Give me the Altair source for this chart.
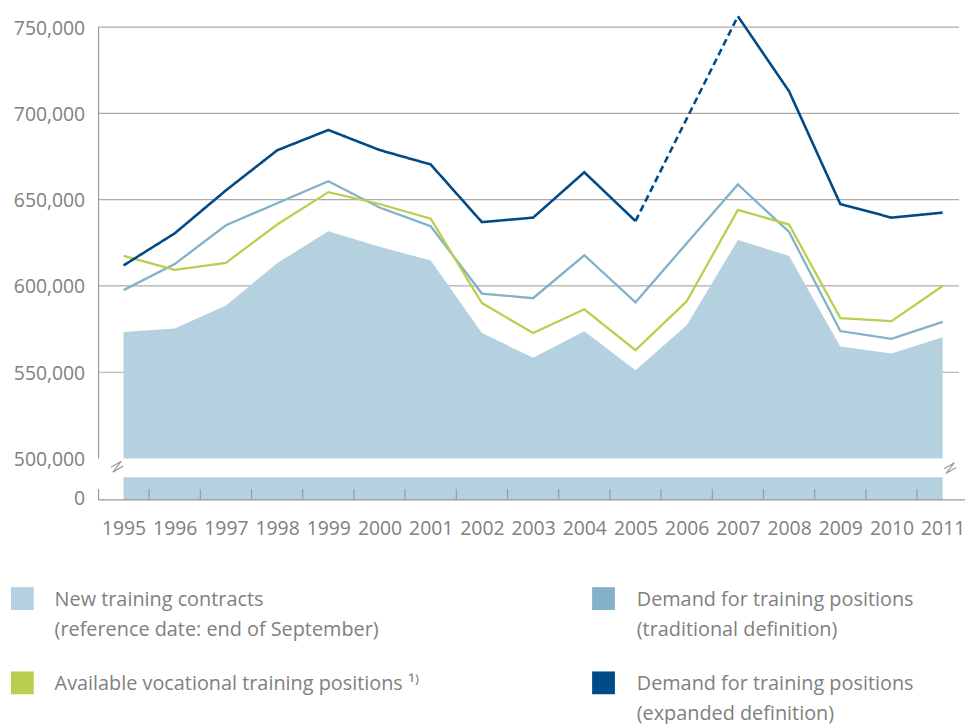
import altair as alt
import pandas as pd

# ---------------- data ----------------
years = list(range(1995, 2012))
new_contracts = [573300, 575300, 588700, 613200, 631700, 622700, 614800, 572700, 558400,
                 573700, 551100, 577200, 626700, 617400, 564900, 560800, 570300]
available_positions = [617400, 609300, 613400, 635600, 654400, 647500, 639000, 590100, 572700,
                       586500, 562800, 591100, 644100, 635600, 581400, 579600, 600000]
demand_traditional = [597600, 612700, 635200, 647900, 660700, 645500, 634600, 595600, 592900,
                      617800, 590500, 624700, 658800, 631300, 573900, 569300, 579200]
# expanded definition: no value for 2006, the gap 2005-2007 is drawn dashed
demand_expanded = [611900, 630500, 655400, 678600, 690400, 678800, 670400, 637000, 639600,
                   665900, 637600, None, 756300, 712800, 647500, 639600, 642500]

y_tick_values = [500000, 550000, 600000, 650000, 700000, 750000]
grid_values = [550000, 600000, 650000, 700000, 750000]

legend_labels = [
    ["New training contracts", "(reference date: end of September)"],
    ["Demand for training positions", "(traditional definition)"],
    ["Available vocational training positions \u00b9\u207e"],
    ["Demand for training positions", "(expanded definition)"],
]

# ---------------- style / layout ----------------
FONT = "Open Sans"
AX_FS = 19.5
LEG_FS = 20
TEXT = "#808080"
GRID = "#ababab"
AXIS = "#9a9a9a"
C_AREA = "#b5d0df"
C_TRAD = "#82b1c9"
C_AVAIL = "#b9cf50"
C_EXP = "#004a87"
legend_colors = [C_AREA, C_TRAD, C_AVAIL, C_EXP]

W, H = 867.7, 476.7
PX_PER_YEAR = 51.625
X_MIN = 1995 - 25.2 / PX_PER_YEAR
X_MAX = 1995 + (W - 25.2) / PX_PER_YEAR
X_END = 1995 + (W + 6 - 25.2) / PX_PER_YEAR      # bottom axis line runs to the page edge
UPP = 50000 / 87.0                               # value units per pixel
Y_MAX = 750000
Y_MIN = Y_MAX - H * UPP                          # bottom of the broken axis ("0" strip)
ZERO_TICK = Y_MAX - 474.0 * UPP                  # where the "0" label sits
STRIP_TOP = Y_MAX - 454.0 * UPP
TICK_TOP = Y_MAX - 465.7 * UPP
BREAK_Y_LEFT = Y_MAX - 443.2 * UPP
BREAK_Y_RIGHT = Y_MAX - 444.7 * UPP

xs = alt.Scale(domain=[X_MIN, X_MAX], nice=False, zero=False)
ys = alt.Scale(domain=[Y_MIN, Y_MAX], nice=False, zero=False)

xaxis = alt.Axis(values=years, format="d", title=None, tickSize=0, domain=False, grid=False,
                 labelFont=FONT, labelFontSize=AX_FS, labelColor=TEXT, labelPadding=20,
                 labelFlush=False, labelOverlap=False)
yaxis = alt.Axis(values=y_tick_values + [ZERO_TICK], title=None, tickSize=0, domain=False,
                 grid=False, labelFont=FONT, labelFontSize=AX_FS, labelColor=TEXT,
                 labelPadding=14, labelOffset=1, labelOverlap=False, labelFlush=False,
                 labelExpr="datum.value < 490000 ? '0' : format(datum.value, ',')")


def X(f):
    return alt.X(f, type="quantitative", scale=xs, axis=xaxis)


def Y(f):
    return alt.Y(f, type="quantitative", scale=ys, axis=yaxis)


df = pd.DataFrame({
    "year": years,
    "new": new_contracts,
    "avail": available_positions,
    "trad": demand_traditional,
})

# gridlines
grid_df = pd.DataFrame({"v": grid_values, "x0": [X_MIN] * len(grid_values),
                        "x1": [X_MAX] * len(grid_values)})
grid = alt.Chart(grid_df).mark_rule(color=GRID, strokeWidth=1.2).encode(
    x=X("x0"), x2="x1", y=Y("v"))

# area of new contracts (upper part, above the break)
area = alt.Chart(df).mark_area(color=C_AREA, opacity=1).encode(
    x=X("year"), y=Y("new"), y2=alt.datum(500000))

# compressed strip below the axis break
strip_df = pd.DataFrame({"x0": [years[0]], "x1": [years[-1]], "y0": [STRIP_TOP], "y1": [Y_MIN]})
strip = alt.Chart(strip_df).mark_rect(color=C_AREA, opacity=1).encode(
    x=X("x0"), x2="x1", y=Y("y0"), y2="y1")

tick_df = pd.DataFrame({"x": [y + 0.5 for y in years[:-1]]})
tick_df["y0"] = Y_MIN
tick_df["y1"] = TICK_TOP
ticks = alt.Chart(tick_df).mark_rule(color=AXIS, strokeWidth=1.2).encode(
    x=X("x"), y=Y("y0"), y2="y1")

axis_df = pd.DataFrame({
    "x0": [X_MIN, X_MIN, X_MIN],
    "x1": [X_MIN, X_MIN, X_END],
    "y0": [500000, Y_MIN, Y_MIN],
    "y1": [Y_MAX, TICK_TOP, Y_MIN],
})
axes = alt.Chart(axis_df).mark_rule(color=AXIS, strokeWidth=1.2).encode(
    x=X("x0"), x2="x1", y=Y("y0"), y2="y1")

line_trad = alt.Chart(df).mark_line(color=C_TRAD, strokeWidth=2.3).encode(x=X("year"), y=Y("trad"))
line_avail = alt.Chart(df).mark_line(color=C_AVAIL, strokeWidth=2.3).encode(x=X("year"), y=Y("avail"))

exp_rows = []
seg = 0
prev = None
for yr, v in zip(years, demand_expanded):
    if v is None:
        continue
    if prev is not None and yr - prev[0] > 1:
        exp_rows.append({"year": prev[0], "v": prev[1], "seg": "d", "style": "dashed"})
        exp_rows.append({"year": yr, "v": v, "seg": "d", "style": "dashed"})
        seg += 1
    exp_rows.append({"year": yr, "v": v, "seg": f"s{seg}", "style": "solid"})
    prev = (yr, v)
exp_df = pd.DataFrame(exp_rows)
line_exp = alt.Chart(exp_df).mark_line(color=C_EXP, strokeWidth=2.6).encode(
    x=X("year"), y=Y("v"), detail="seg:N",
    strokeDash=alt.StrokeDash("style:N", scale=alt.Scale(domain=["solid", "dashed"],
                                                        range=[[1, 0], [7, 4]]), legend=None))

break_df = pd.DataFrame({"x": [years[0] - 6.5 / PX_PER_YEAR, years[-1] + 7.5 / PX_PER_YEAR],
                         "y": [BREAK_Y_LEFT, BREAK_Y_RIGHT]})
breaks = alt.Chart(break_df).mark_point(
    shape="M -1 0.1 L 0.7 -0.9 L -0.7 0.9 L 1 -0.1", size=150, filled=False,
    stroke=AXIS, strokeWidth=1.2, opacity=1).encode(x=X("x"), y=Y("y"))

# manual legend (two columns)
legend_layers = []
for i, (lines, col) in enumerate(zip(legend_labels, legend_colors)):
    c, r = i % 2, i // 2
    sq_x = -76.8 + c * 586.0
    sq_y = 576.2 + r * 85.0
    tx = -44.3 + c * 587.0
    one = pd.DataFrame({"label": [lines[0]]})
    legend_layers.append(alt.Chart(one).mark_square(size=529, color=col, opacity=1).encode(
        x=alt.value(sq_x), y=alt.value(sq_y)))
    for j, line in enumerate(lines):
        legend_layers.append(alt.Chart(pd.DataFrame({"t": [line]})).mark_text(
            align="left", baseline="middle", font=FONT, fontSize=LEG_FS, color=TEXT).encode(
            x=alt.value(tx), y=alt.value(sq_y + 1.5 + j * 30.0), text="t:N"))

chart = alt.layer(grid, area, strip, ticks, axes, line_trad, line_avail, line_exp, breaks,
                  *legend_layers).properties(
    width=W, height=H,
    padding={"left": 91.3, "top": 16.3, "right": 6, "bottom": 223},
    autosize=alt.AutoSizeParams(type="none"),
).configure_view(stroke=None)

chart.save("out.html", embed_options={"renderer": "svg", "actions": False})
